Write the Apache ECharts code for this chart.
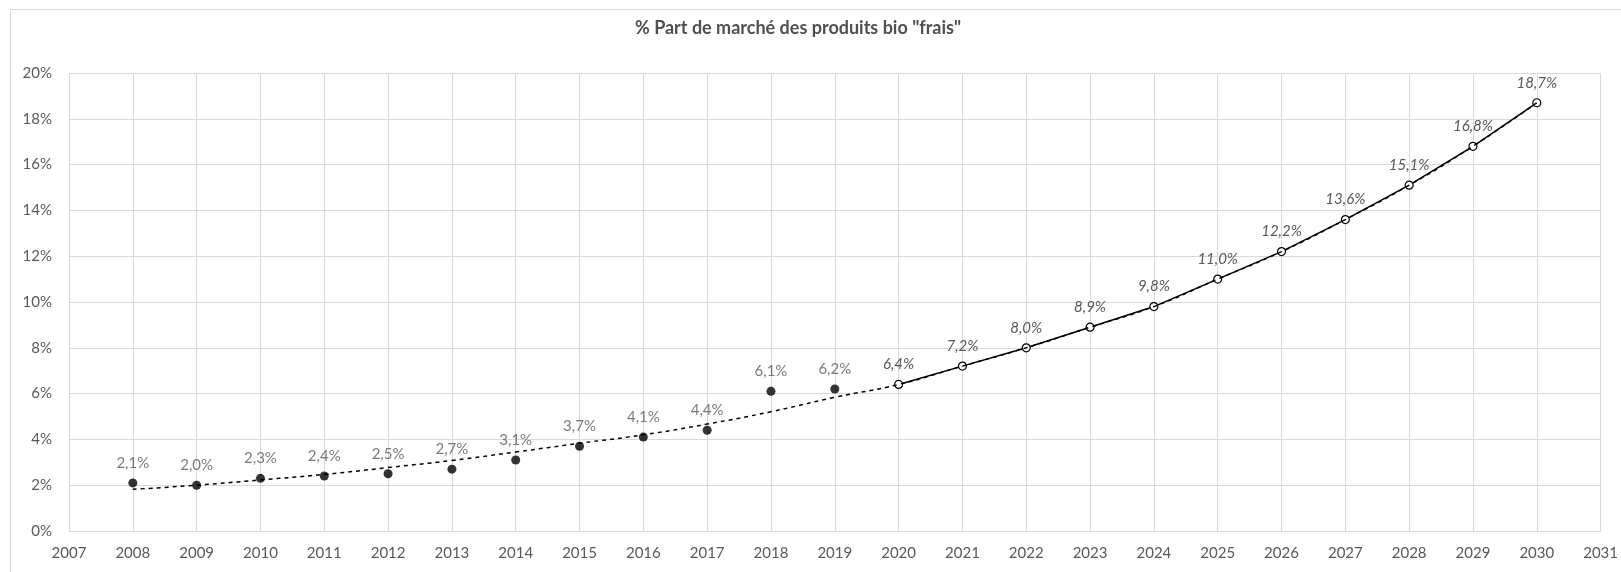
<!DOCTYPE html>
<html>
<head>
<meta charset="utf-8">
<script src="https://cdn.jsdelivr.net/npm/echarts@6/dist/echarts.min.js"></script>
<style>html,body{margin:0;padding:0;background:#fff;}#c{width:1621px;height:572px;}</style>
</head>
<body>
<div id="c"></div>
<script>
var titleText = '% Part de marché des produits bio "frais"';
var actualYears = [2008,2009,2010,2011,2012,2013,2014,2015,2016,2017,2018,2019];
var actualValues = [2.1,2.0,2.3,2.4,2.5,2.7,3.1,3.7,4.1,4.4,6.1,6.2];
var projYears = [2020,2021,2022,2023,2024,2025,2026,2027,2028,2029,2030];
var projValues = [6.4,7.2,8.0,8.9,9.8,11.0,12.2,13.6,15.1,16.8,18.7];
var trendYears = [2008,2009,2010,2011,2012,2013,2014,2015,2016,2017,2018,2019,2020,2021,2022,2023,2024,2025,2026,2027,2028,2029,2030];
var trendValues = [1.82,2.0,2.23,2.47,2.77,3.08,3.45,3.83,4.2,4.67,5.21,5.84,6.4,7.2,8.0,8.9,9.8,11.0,12.2,13.6,15.1,16.8,18.7];
var xMin = 2007, xMax = 2031, yMin = 0, yMax = 20, yStep = 2;

function pairs(xs, ys){ return xs.map(function(x,i){ return [x, ys[i]]; }); }
function fmt(v){ return v.toFixed(1).replace('.', ',') + '%'; }

var FONT = 'Lato, "Open Sans", sans-serif';
var chart = echarts.init(document.getElementById('c'), null, {renderer:'canvas'});
chart.setOption({
  animation: false,
  backgroundColor: '#fff',
  graphic: [{
    type: 'rect', shape: {x: 10.5, y: 9.5, width: 1640, height: 600},
    style: {fill: 'none', stroke: '#d9d9d9', lineWidth: 1}, silent: true, z: -1
  }, {
    type: 'text', left: 785 - 150, top: 19,
    style: {text: titleText, font: 'bold 18px ' + FONT, fill: '#505050', width: 300, align: 'center'},
  }],
  grid: {left: 69, right: 16, top: 73, bottom: 41, containLabel: false},
  xAxis: {
    type: 'value', min: xMin, max: xMax, interval: 1,
    axisLine: {show: true, lineStyle: {color: '#d9d9d9'}},
    axisTick: {show: false},
    splitLine: {show: true, lineStyle: {color: '#d9d9d9'}},
    axisLabel: {color: '#595959', fontSize: 15, fontFamily: FONT, margin: 15, formatter: function(v){ return String(v); }}
  },
  yAxis: {
    type: 'value', min: yMin, max: yMax, interval: yStep,
    axisLine: {show: false}, axisTick: {show: false},
    splitLine: {show: true, lineStyle: {color: '#d9d9d9'}},
    axisLabel: {color: '#595959', fontSize: 15, fontFamily: FONT, margin: 17, formatter: '{value}%'}
  },
  series: [{
    name: 'proj', type: 'line', data: pairs(projYears, projValues),
    symbol: 'circle', symbolSize: 8, showSymbol: true,
    lineStyle: {color: '#000', width: 1.5},
    itemStyle: {color: '#fff', borderColor: '#000', borderWidth: 1.2},
    label: {show: true, position: 'top', distance: 8, color: '#595959', fontSize: 15, fontFamily: FONT, fontStyle: 'italic',
      formatter: function(p){ return fmt(p.value[1]); }},
    z: 3
  }, {
    name: 'trend', type: 'line', data: pairs(trendYears, trendValues), smooth: true,
    symbol: 'none', lineStyle: {color: '#000', width: 1.5, type: [4, 4]}, z: 4
  }, {
    name: 'actual', type: 'scatter', data: pairs(actualYears, actualValues),
    symbol: 'circle', symbolSize: 9, itemStyle: {color: '#000'},
    label: {show: true, position: 'top', distance: 8, color: '#595959', fontSize: 15, fontFamily: FONT,
      formatter: function(p){ return fmt(p.value[1]); }},
    z: 5
  }]
});
</script>
</body>
</html>
